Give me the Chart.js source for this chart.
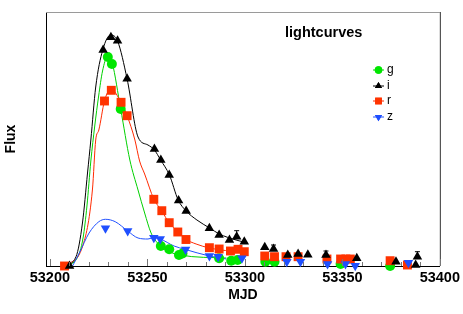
<!DOCTYPE html>
<html lang="en">
<head>
<meta charset="UTF-8">
<title>lightcurves</title>
<script src="https://cdn.jsdelivr.net/npm/chart.js@4"></script>
<style>
  body { margin: 0; background: #fff; }
  canvas { display: block; }
</style>
</head>
<body>
<canvas id="lc" width="463" height="314"></canvas>
<script>
  const xTicks = [53200, 53250, 53300, 53350, 53400];

  // observed photometry (MJD, flux in arbitrary units)
  const gMjd  = [53229.7, 53231.8, 53236.3, 53256.9, 53261.2, 53266.2, 53268.0, 53286.8, 53293.0, 53296.3, 53310.5, 53315.2, 53349.1, 53374.5];
  const gFlux = [209, 202, 157, 20, 16.7, 11, 12.5, 7.7, 5.3, 6, 4.3, 4.3, 2, 0];

  const iMjd  = [53210.1, 53227.3, 53231.3, 53234.7, 53239.6, 53253.6, 53256.9, 53261.2, 53266.0, 53269.9, 53281.8, 53286.8, 53292.1, 53295.8, 53299.7, 53310.2, 53314.7, 53322.0, 53327.3, 53332.3, 53341.6, 53357.4, 53377.5, 53387.6, 53388.5];
  const iFlux = [0, 216, 228.7, 225.3, 187.3, 117, 106, 91, 65.5, 55, 37.7, 31, 26, 29.3, 24.3, 18.7, 17, 11, 12, 11.3, 11, 7.7, 4.3, 1, 9.3];
  const iErr  = [0, 0, 0, 0, 0, 0, 0, 0, 0, 0, 0, 0, 0, 6, 0, 0, 4, 0, 0, 0, 4, 0, 0, 0, 5];

  const rMjd  = [53207.5, 53228.0, 53231.5, 53236.5, 53239.6, 53253.3, 53257.4, 53261.2, 53265.6, 53269.8, 53281.8, 53286.8, 53292.6, 53296.5, 53299.7, 53310.2, 53315.2, 53321.1, 53327.3, 53342.1, 53349.1, 53351.8, 53354.1, 53374.5, 53383.4];
  const rFlux = [0, 165, 175.7, 163.7, 150.3, 66.7, 55.3, 43.3, 34, 26.5, 18.3, 17, 15, 16.7, 14.3, 10, 9.3, 9.3, 9.3, 7, 7, 7, 7, 5.3, 1];

  const zMjd  = [53228.5, 53239.9, 53253.3, 53256.6, 53269.6, 53281.8, 53286.3, 53298.5, 53321.5, 53328.5, 53342.4, 53351.6, 53356.6, 53383.9];
  const zFlux = [37.7, 35, 28.3, 27, 16.4, 10, 9.3, 7.7, 4.3, 4.3, 2, 2, 0.3, 3.3];

  // fitted light-curve models, knots
  const gFitMjd  = [53207.5, 53214, 53217, 53219, 53221, 53223, 53225, 53227, 53229.5, 53231, 53232, 53236.3, 53241, 53245.2, 53248.6, 53251.9, 53256.8, 53266.8, 53290.5];
  const gFitFlux = [0, 8, 28, 60, 105, 140, 170, 195, 209, 207, 203, 157, 106, 76, 53, 33, 20, 11, 8];

  const iFitMjd  = [53207.5, 53213.4, 53216.7, 53219.3, 53221.0, 53223.5, 53227.1, 53231.2, 53234.7, 53239.6, 53245.2, 53250.3, 53253.6, 53256.8, 53261.3, 53265.8, 53269.9, 53275.4, 53281.9, 53286.9, 53295.5, 53299.5];
  const iFitFlux = [0, 9.3, 43, 93, 126, 179, 216, 231, 225, 187, 129, 121, 116, 106, 91, 66, 55, 46, 38, 32, 26, 24];

  const rFitMjd  = [53207.5, 53216.7, 53221.8, 53223.5, 53225.1, 53228.0, 53231.2, 53236.5, 53239.6, 53243.6, 53246, 53248.6, 53253.3, 53257.4, 53261.2, 53265.3, 53269.5, 53275, 53281.8, 53290, 53298];
  const rFitFlux = [0, 19.3, 76, 126, 136, 165, 177, 163.7, 150.3, 126, 105, 92, 67, 55, 43, 35, 27, 22, 18, 15.5, 14.5];

  const zFitMjd  = [53211.6, 53215.1, 53220.1, 53225.1, 53228.5, 53233.5, 53239.9, 53245.2, 53250.3, 53253.3, 53256.6, 53263.7, 53269.2, 53281.8, 53290.5];
  const zFitFlux = [0, 13, 33, 44.3, 46.7, 44.3, 35, 28, 27, 28.3, 27, 20, 16.7, 10, 7];

  const bands = ['g', 'i', 'r', 'z'];
  const colors = { g: '#00e600', i: '#000000', r: '#ff3300', z: '#1f4fff' };
  const lineColors = { g: '#00d000', i: '#000000', r: '#ff2a00', z: '#2050ff' };
  const styles = {
    g: { pointStyle: 'circle', radius: 5, rotation: 0 },
    i: { pointStyle: 'triangle', radius: 5.5, rotation: 0 },
    r: { pointStyle: 'rect', radius: 6.3, rotation: 0 },
    z: { pointStyle: 'triangle', radius: 5.5, rotation: 180 }
  };
  const obs = { g: [gMjd, gFlux], i: [iMjd, iFlux], r: [rMjd, rFlux], z: [zMjd, zFlux] };
  const fits = { g: [gFitMjd, gFitFlux], i: [iFitMjd, iFitFlux], r: [rFitMjd, rFitFlux], z: [zFitMjd, zFitFlux] };

  const pairs = (xs, ys) => xs.map((x, k) => ({ x, y: ys[k] }));

  const datasets = [];
  // points first so they sit on top of the curves
  ['z', 'i', 'r', 'g'].forEach(b => {
    datasets.push({
      label: b,
      data: pairs(obs[b][0], obs[b][1]),
      showLine: false,
      pointStyle: styles[b].pointStyle,
      pointRadius: styles[b].radius,
      pointRotation: styles[b].rotation,
      backgroundColor: colors[b],
      borderColor: colors[b],
      borderWidth: 0,
      clip: false
    });
  });
  ['z', 'i', 'r', 'g'].forEach(b => {
    datasets.push({
      label: b + ' fit',
      data: pairs(fits[b][0], fits[b][1]),
      showLine: true,
      pointRadius: 0,
      borderColor: lineColors[b],
      borderWidth: 1,
      cubicInterpolationMode: 'monotone',
      clip: false
    });
  });

  const frame = {
    id: 'frame',
    afterDatasetsDraw(chart) {
      const { ctx, chartArea: a, scales } = chart;
      const xs = scales.x;
      ctx.save();
      // top and right edges
      ctx.lineWidth = 1;
      ctx.strokeStyle = '#9a9a9a';
      ctx.beginPath(); ctx.moveTo(a.left, a.top + 0.5); ctx.lineTo(a.right, a.top + 0.5); ctx.stroke();
      ctx.strokeStyle = '#333';
      ctx.beginPath(); ctx.moveTo(a.right + 0.5, a.top); ctx.lineTo(a.right + 0.5, a.bottom); ctx.stroke();
      // inward ticks, major every 50, minor every 10
      ctx.strokeStyle = '#777';
      for (let v = 53200; v <= 53400; v += 10) {
        const px = Math.round(xs.getPixelForValue(v)) + 0.5;
        const len = v % 50 === 0 ? 7 : 4;
        ctx.beginPath(); ctx.moveTo(px, a.bottom); ctx.lineTo(px, a.bottom - len); ctx.stroke();
      }
      // error bars on i
      ctx.strokeStyle = '#000';
      iMjd.forEach((m, k) => {
        if (!iErr[k]) return;
        const px = xs.getPixelForValue(m);
        const y0 = scales.y.getPixelForValue(iFlux[k]);
        const y1 = scales.y.getPixelForValue(iFlux[k] + iErr[k]);
        ctx.beginPath();
        ctx.moveTo(px, y0); ctx.lineTo(px, y1);
        ctx.moveTo(px - 2.5, y1); ctx.lineTo(px + 2.5, y1);
        ctx.stroke();
      });
      // title and legend
      ctx.fillStyle = '#000';
      ctx.font = 'bold 14.5px "Liberation Sans", Arial, sans-serif';
      ctx.textBaseline = 'middle';
      ctx.textAlign = 'left';
      ctx.fillText('lightcurves', 285, 33);
      ctx.font = '12px "Liberation Sans", Arial, sans-serif';
      const legY = [70, 86, 101, 117];
      bands.forEach((b, k) => {
        const y = legY[k];
        ctx.strokeStyle = lineColors[b];
        ctx.beginPath(); ctx.moveTo(373, y); ctx.lineTo(384, y); ctx.stroke();
        ctx.fillStyle = colors[b];
        Chart.helpers.drawPoint(ctx, {
          pointStyle: styles[b].pointStyle,
          radius: styles[b].radius * 0.75,
          rotation: styles[b].rotation,
          borderWidth: 0
        }, 378.5, y);
        ctx.fill();
        ctx.fillStyle = '#000';
        ctx.fillText(b, 387, y);
      });
      ctx.restore();
    }
  };

  new Chart(document.getElementById('lc'), {
    type: 'scatter',
    data: { datasets },
    options: {
      responsive: false,
      animation: false,
      devicePixelRatio: 1,
      layout: { padding: { top: 12, right: 19, left: 0, bottom: 0 } },
      plugins: { legend: { display: false }, tooltip: { enabled: false } },
      scales: {
        x: {
          type: 'linear',
          min: 53198,
          max: 53400,
          afterFit: s => { s.height = 48; },
          afterBuildTicks: s => { s.ticks = xTicks.map(v => ({ value: v })); },
          grid: { display: false, drawTicks: false },
          border: { display: true, color: '#000', width: 1 },
          ticks: {
            padding: 3,
            color: '#000',
            maxRotation: 0,
            font: { family: '"Liberation Sans", Arial, sans-serif', size: 14.5, weight: 'bold' },
            callback: v => String(v)
          },
          title: {
            display: true,
            text: 'MJD',
            color: '#000',
            padding: { top: 0, bottom: 10 },
            font: { family: '"Liberation Sans", Arial, sans-serif', size: 14, weight: 'bold' }
          }
        },
        y: {
          min: 0,
          max: 254,
          afterFit: s => { s.width = 46; },
          grid: { display: false, drawTicks: false },
          border: { display: true, color: '#000', width: 1 },
          ticks: { display: false },
          title: {
            display: true,
            text: 'Flux',
            color: '#000',
            padding: { top: 3, bottom: 0 },
            font: { family: '"Liberation Sans", Arial, sans-serif', size: 14, weight: 'bold' }
          }
        }
      }
    },
    plugins: [frame]
  });
</script>
</body>
</html>
